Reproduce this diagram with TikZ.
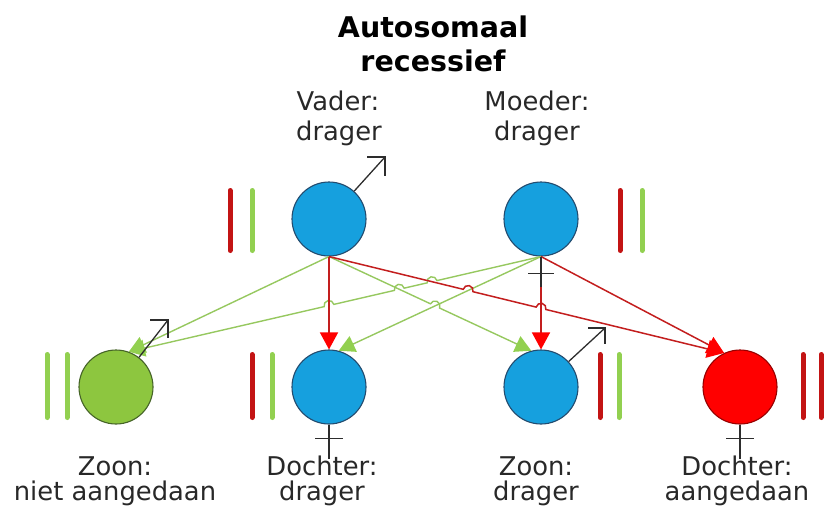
\documentclass[tikz,border=0pt]{standalone}
\usepackage{fontspec}
\setmainfont{DejaVu Sans}
\usetikzlibrary{arrows.meta,calc,intersections}

\definecolor{cblue}{RGB}{22,160,222}
\definecolor{cblueedge}{RGB}{35,75,110}
\definecolor{cgreen}{RGB}{141,198,63}
\definecolor{cgreenedge}{RGB}{70,100,40}
\definecolor{cred}{RGB}{255,0,0}
\definecolor{credge}{RGB}{150,0,0}
\definecolor{lred}{RGB}{195,30,30}
\definecolor{lgreen}{RGB}{150,200,95}
\definecolor{bred}{RGB}{195,20,20}
\definecolor{bgreen}{RGB}{146,208,80}
\definecolor{symb}{RGB}{45,45,45}
\definecolor{txt}{RGB}{40,40,40}

\begin{document}
\begin{tikzpicture}[x=1pt,y=-1pt,
  person/.style={circle, minimum size=74pt, inner sep=0pt, line width=1.1pt},
  bluep/.style={person, fill=cblue, draw=cblueedge},
  greenp/.style={person, fill=cgreen, draw=cgreenedge},
  redp/.style={person, fill=cred, draw=credge},
  redln/.style={line width=1.5pt, draw=lred, -{Triangle[width=18pt,length=17pt,color=cred]}},
  greenln/.style={line width=1.4pt, draw=lgreen, -{Triangle[width=17pt,length=16pt,color=bgreen]}},
  bar/.style={line width=5pt, line cap=round},
  sym/.style={line width=1.3pt, draw=symb},
  lbl/.style={font=\fontsize{25.8}{30}\selectfont, text=txt, anchor=base, inner sep=0pt},
  ttl/.style={font=\bfseries\fontsize{28.5}{34}\selectfont, text=black, anchor=base, inner sep=0pt}
]
\useasboundingbox (0,0) rectangle (824,507);

% title and labels
\node[ttl] (t1) at (433,37) {Autosomaal};
\node[ttl] (t2) at (433,71) {recessief};
\node[lbl] (vl1) at (338,110) {Vader:};
\node[lbl] (vl2) at (339,140) {drager};
\node[lbl] (ml1) at (537,110) {Moeder:};
\node[lbl] (ml2) at (537,140) {drager};
\node[lbl] (z1l1) at (115,475) {Zoon:};
\node[lbl] (z1l2) at (115,500) {niet aangedaan};
\node[lbl] (d1l1) at (322,475) {Dochter:};
\node[lbl] (d1l2) at (322,500) {drager};
\node[lbl] (z2l1) at (536,475) {Zoon:};
\node[lbl] (z2l2) at (536,500) {drager};
\node[lbl] (d2l1) at (737,475) {Dochter:};
\node[lbl] (d2l2) at (737,500) {aangedaan};

% persons
\node[bluep] (v) at (329,219) {};
\node[bluep] (m) at (541,219) {};
\node[greenp] (z1) at (116,387) {};
\node[bluep] (d1) at (329,387) {};
\node[bluep] (z2) at (541,387) {};
\node[redp] (d2) at (740,387) {};

% chromosome bars
\draw[bar, bred]   (230,190.5) -- (230,250.5);
\draw[bar, bgreen] (252,190.5) -- (252,250.5);
\draw[bar, bred]   (620,190.5) -- (620,250.5);
\draw[bar, bgreen] (642,190.5) -- (642,250.5);
\draw[bar, bgreen] (47,354.5) -- (47,417.5);
\draw[bar, bgreen] (67,354.5) -- (67,417.5);
\draw[bar, bred]   (252,354.5) -- (252,417.5);
\draw[bar, bgreen] (272,354.5) -- (272,417.5);
\draw[bar, bred]   (600,354.5) -- (600,417.5);
\draw[bar, bgreen] (619,354.5) -- (619,417.5);
\draw[bar, bred]   (803,354.5) -- (803,417.5);
\draw[bar, bred]   (821,354.5) -- (821,417.5);

% invisible paths for line hops
\path[name path=p1] (v.south) -- (d1.north);
\path[name path=p2] (m.south) -- (z2.north);
\path[name path=p3] (v.south) -- (d2.115);
\path[name path=p6] (v.south) -- (z2.105);
\path[name path=p7] (m.south) -- (d1.75);
\path[name path=p8] (m.south) -- (z1.70);
\path[name intersections={of=p3 and p7, by=h37}];
\path[name intersections={of=p3 and p2, by=h32}];
\path[name intersections={of=p6 and p7, by=h67}];
\path[name intersections={of=p8 and p3, by=h83}];
\path[name intersections={of=p8 and p6, by=h86}];
\path[name intersections={of=p8 and p1, by=h81}];

% connectors
\draw[greenln] (v.south) -- (z1.70);
\draw[greenln] (m.south) -- (d1.75);
\draw[greenln] let \p1=($(z2.105)-(v.south)$), \n1={atan2(\y1,\x1)} in
  (v.south) -- ($(h67)!5pt!(v.south)$) arc[start angle=\n1+180, delta angle=-180, radius=5pt]
  -- (z2.105);
\draw[greenln] let \p1=($(z1.70)-(m.south)$), \n1={atan2(\y1,\x1)} in
  (m.south) -- ($(h83)!5pt!(m.south)$) arc[start angle=\n1+180, delta angle=180, radius=5pt]
  -- ($(h86)!5pt!(m.south)$) arc[start angle=\n1+180, delta angle=180, radius=5pt]
  -- ($(h81)!5pt!(m.south)$) arc[start angle=\n1+180, delta angle=180, radius=5pt]
  -- (z1.70);
\draw[redln] (v.south) -- (d1.north);
\draw[redln] (m.south) -- (z2.north);
\draw[redln] (m.south) -- (d2.115);
\draw[redln] let \p1=($(d2.115)-(v.south)$), \n1={atan2(\y1,\x1)} in
  (v.south) -- ($(h37)!5pt!(v.south)$) arc[start angle=\n1+180, delta angle=-180, radius=5pt]
  -- ($(h32)!5pt!(v.south)$) arc[start angle=\n1+180, delta angle=-180, radius=5pt]
  -- (d2.115);

% male symbols
\coordinate (vt) at (385,157);
\coordinate (z1t) at (168,320);
\coordinate (z2t) at (605,328);
\draw[sym] (v) -- (vt);
\draw[sym] ($(vt)+(-18,0)$) -- (vt) -- ($(vt)+(0,19)$);
\draw[sym] (z1) -- (z1t);
\draw[sym] ($(z1t)+(-18,0)$) -- (z1t) -- ($(z1t)+(0,18)$);
\draw[sym] (z2) -- (z2t);
\draw[sym] ($(z2t)+(-17,0)$) -- (z2t) -- ($(z2t)+(0,16)$);

% female symbols
\draw[sym] (m.south) -- ++(0,30);
\draw[sym] ($(m.south)+(-13,17)$) -- ++(26,0);
\draw[sym] (d1.south) -- ++(0,34);
\draw[sym] ($(d1.south)+(-14,14)$) -- ++(28,0);
\draw[sym] (d2.south) -- ++(0,34);
\draw[sym] ($(d2.south)+(-14,14)$) -- ++(28,0);
\end{tikzpicture}
\end{document}
